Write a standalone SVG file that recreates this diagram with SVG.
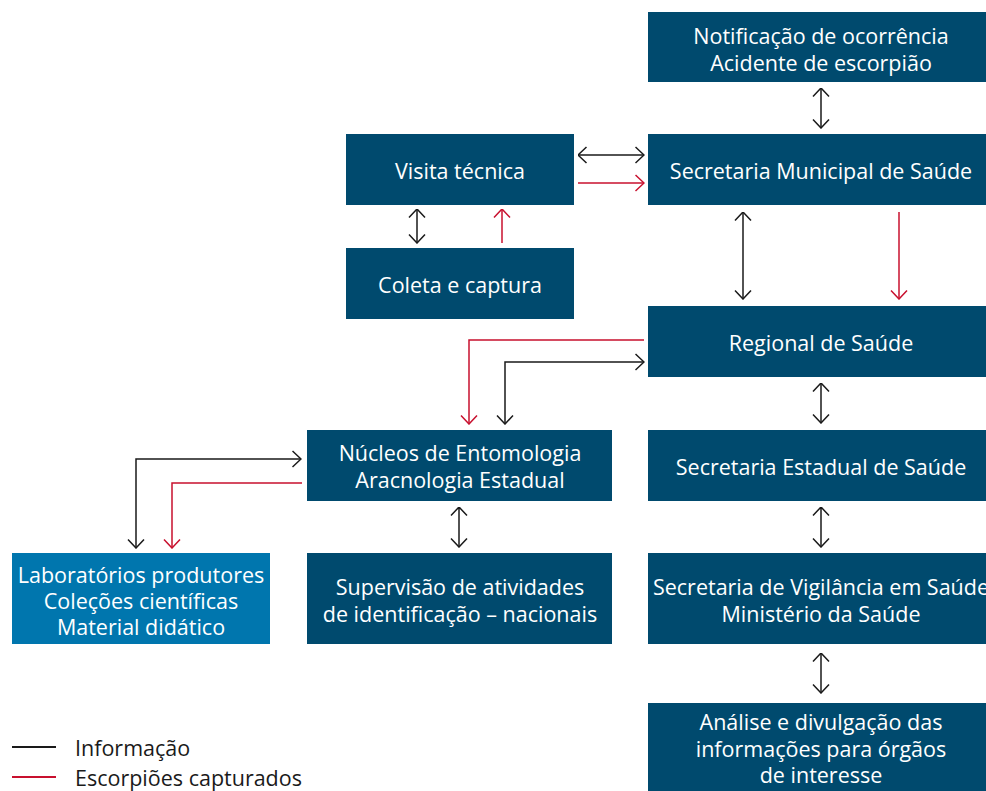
<svg xmlns="http://www.w3.org/2000/svg" width="986" height="791" viewBox="0 0 986 791">
<defs>
<style>
.box{fill:#004a6e}
.lab{fill:#0076ae}
.t{fill:#ffffff;font-family:"Open Sans","Liberation Sans",sans-serif;font-size:21.5px;text-anchor:middle;dominant-baseline:central}
.lg{fill:#1a1a1a;font-family:"Open Sans","Liberation Sans",sans-serif;font-size:21.5px;dominant-baseline:central}
.k{stroke:#1a1a1a;stroke-width:1.5;fill:none}
.r{stroke:#c8102e;stroke-width:1.5;fill:none}
</style>
<marker id="ak" viewBox="0 0 10 18" refX="9.5" refY="9" markerWidth="10" markerHeight="18" markerUnits="userSpaceOnUse" orient="auto-start-reverse">
<path d="M1,1 L9.5,9 L1,17" fill="none" stroke="#1a1a1a" stroke-width="1.5"/>
</marker>
<marker id="ar" viewBox="0 0 10 18" refX="9.5" refY="9" markerWidth="10" markerHeight="18" markerUnits="userSpaceOnUse" orient="auto-start-reverse">
<path d="M1,1 L9.5,9 L1,17" fill="none" stroke="#c8102e" stroke-width="1.5"/>
</marker>
</defs>
<rect width="986" height="791" fill="#ffffff"/>
<g id="connectors">
<line class="k" x1="821" y1="88" x2="821" y2="128" marker-start="url(#ak)" marker-end="url(#ak)"/>
<line class="k" x1="578" y1="155" x2="644" y2="155" marker-start="url(#ak)" marker-end="url(#ak)"/>
<line class="r" x1="578" y1="183" x2="644" y2="183" marker-end="url(#ar)"/>
<line class="k" x1="417" y1="209" x2="417" y2="243" marker-start="url(#ak)" marker-end="url(#ak)"/>
<line class="r" x1="502" y1="243" x2="502" y2="209" marker-end="url(#ar)"/>
<line class="k" x1="743" y1="212" x2="743" y2="299" marker-start="url(#ak)" marker-end="url(#ak)"/>
<line class="r" x1="899" y1="212" x2="899" y2="299" marker-end="url(#ar)"/>
<polyline class="r" points="644,340 469,340 469,424" marker-end="url(#ar)"/>
<polyline class="k" points="505,424 505,362 644,362" marker-start="url(#ak)" marker-end="url(#ak)"/>
<line class="k" x1="821" y1="383" x2="821" y2="423" marker-start="url(#ak)" marker-end="url(#ak)"/>
<polyline class="k" points="301,459 136,459 136,548" marker-start="url(#ak)" marker-end="url(#ak)"/>
<polyline class="r" points="302,483 172,483 172,548" marker-end="url(#ar)"/>
<line class="k" x1="459" y1="507" x2="459" y2="547" marker-start="url(#ak)" marker-end="url(#ak)"/>
<line class="k" x1="821" y1="507" x2="821" y2="547" marker-start="url(#ak)" marker-end="url(#ak)"/>
<line class="k" x1="821" y1="653" x2="821" y2="693" marker-start="url(#ak)" marker-end="url(#ak)"/>
</g>
<g id="notificacao"><rect class="box" x="648" y="12" width="338" height="70"/><text class="t" x="821" y="35">Notificação de ocorrência</text><text class="t" x="821" y="62">Acidente de escorpião</text></g>
<g id="visita"><rect class="box" x="346" y="134" width="228" height="71"/><text class="t" x="460" y="170">Visita técnica</text></g>
<g id="municipal"><rect class="box" x="648" y="134" width="338" height="71"/><text class="t" x="821" y="170">Secretaria Municipal de Saúde</text></g>
<g id="coleta"><rect class="box" x="346" y="248" width="228" height="71"/><text class="t" x="460" y="284">Coleta e captura</text></g>
<g id="regional"><rect class="box" x="648" y="306" width="338" height="71"/><text class="t" x="821" y="342">Regional de Saúde</text></g>
<g id="nucleos"><rect class="box" x="307" y="430" width="305" height="71"/><text class="t" x="460" y="452">Núcleos de Entomologia</text><text class="t" x="460" y="479">Aracnologia Estadual</text></g>
<g id="estadual"><rect class="box" x="648" y="430" width="338" height="71"/><text class="t" x="821" y="466">Secretaria Estadual de Saúde</text></g>
<g id="laboratorios"><rect class="lab" x="12" y="553" width="258" height="91"/><text class="t" x="141" y="574">Laboratórios produtores</text><text class="t" x="141" y="600">Coleções científicas</text><text class="t" x="141" y="626">Material didático</text></g>
<g id="supervisao"><rect class="box" x="307" y="553" width="305" height="91"/><text class="t" x="460" y="586">Supervisão de atividades</text><text class="t" x="460" y="613">de identificação – nacionais</text></g>
<g id="vigilancia"><rect class="box" x="648" y="553" width="338" height="91"/><text class="t" x="821" y="586">Secretaria de Vigilância em Saúde</text><text class="t" x="821" y="613">Ministério da Saúde</text></g>
<g id="analise"><rect class="box" x="648" y="703" width="338" height="88"/><text class="t" x="821" y="721">Análise e divulgação das</text><text class="t" x="821" y="748">informações para órgãos</text><text class="t" x="821" y="774">de interesse</text></g>
<g id="legend">
<line x1="12" y1="747" x2="56" y2="747" stroke="#1a1a1a" stroke-width="2"/>
<line x1="12" y1="777" x2="56" y2="777" stroke="#c8102e" stroke-width="2"/>
<text class="lg" x="75" y="747">Informação</text>
<text class="lg" x="75" y="777">Escorpiões capturados</text>
</g>
</svg>
